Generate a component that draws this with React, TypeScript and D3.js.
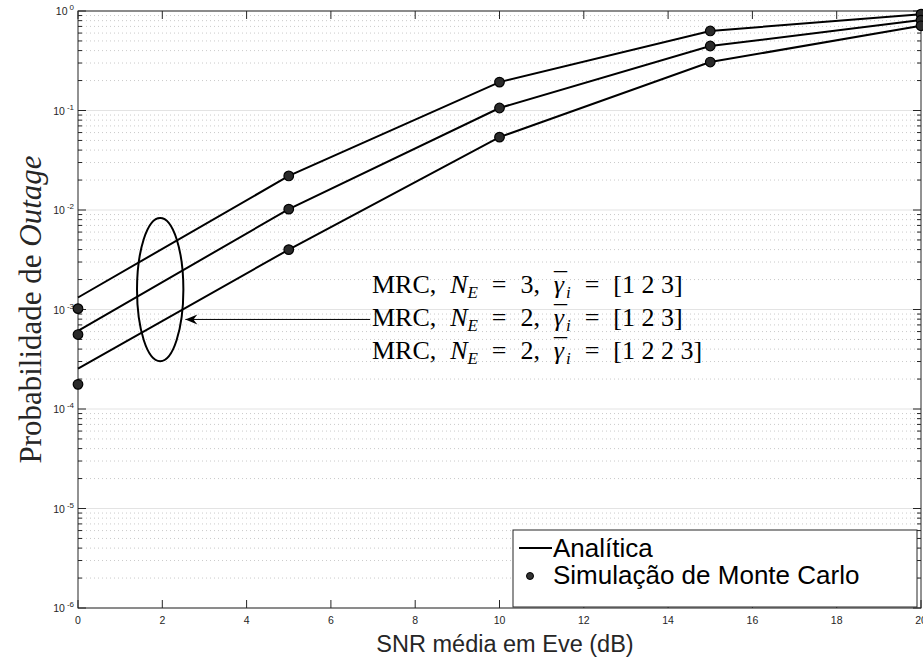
import React, { useEffect } from 'react';
import * as d3 from 'd3';

// SNR (dB)
const snr = [0, 5, 10, 15, 20];
// analytic curves
const anaNE3 = [1.32e-3, 0.022, 0.193, 0.63, 0.93];
const anaNE2 = [6.1e-4, 0.0102, 0.106, 0.445, 0.81];
const anaNE2b = [2.55e-4, 0.004, 0.054, 0.307, 0.71];
// monte carlo
const simNE3 = [1.02e-3, 0.022, 0.193, 0.63, 0.93];
const simNE2 = [5.6e-4, 0.0102, 0.106, 0.445, 0.81];
const simNE2b = [1.77e-4, 0.004, 0.054, 0.307, 0.71];

const xTicks = [0, 2, 4, 6, 8, 10, 12, 14, 16, 18, 20];
const yExps = [0, -1, -2, -3, -4, -5, -6];
const annotLabels = ['3', '2', '2'];
const annotGammas = ['[1 2 3]', '[1 2 3]', '[1 2 2 3]'];

const W = 923, H = 660;
const m = { left: 78, right: 921, top: 11, bottom: 608 };
const SANS = 'Liberation Sans, Arial, sans-serif';
const SERIF = 'Liberation Serif, Times New Roman, serif';

export default function App() {
  useEffect(() => {
    document.body.style.margin = '0';
  }, []);

  const x = d3.scaleLinear().domain([0, 20]).range([m.left, m.right]);
  const y = d3.scaleLog().domain([1e-6, 1]).range([m.bottom, m.top]);

  const line = d3.line<[number, number]>()
    .x(d => x(d[0]))
    .y(d => y(d[1]));

  const ana = [anaNE3, anaNE2, anaNE2b];
  const sim = [simNE3, simNE2, simNE2b];

  const minor: number[] = [];
  for (let e = -6; e < 0; e++) {
    for (let k = 2; k <= 9; k++) minor.push(k * Math.pow(10, e));
  }

  // ellipse in data coords
  const ex = x(1.95), eyTop = y(Math.pow(10, -2.08)), eyBot = y(Math.pow(10, -3.52));
  const erx = x(2.5) - x(1.95);
  const arrowY = y(Math.pow(10, -3.1));
  const sp = '\u2009\u2004';

  return (
    <svg width={W} height={H} style={{ display: 'block', background: '#fff' }}>
      {/* grid */}
      {minor.map((v, i) => (
        <line key={'mg' + i} x1={m.left} x2={m.right} y1={y(v)} y2={y(v)}
          stroke="#bdbdbd" strokeWidth={0.8} strokeDasharray="1,3" />
      ))}
      {yExps.map(e => (
        <line key={'g' + e} x1={m.left} x2={m.right} y1={y(Math.pow(10, e))} y2={y(Math.pow(10, e))}
          stroke="#e3e3e3" strokeWidth={1} />
      ))}

      {/* ticks */}
      {xTicks.map(t => (
        <g key={'xt' + t}>
          <line x1={x(t)} x2={x(t)} y1={m.bottom} y2={m.bottom - 8} stroke="#262626" />
          <line x1={x(t)} x2={x(t)} y1={m.top} y2={m.top + 8} stroke="#262626" />
          <text x={x(t)} y={m.bottom + 16} textAnchor="middle" fontSize={10.5}
            fontFamily={SANS} fill="#262626">{t}</text>
        </g>
      ))}
      {yExps.map(e => (
        <g key={'yt' + e}>
          <line x1={m.left} x2={m.left + 8} y1={y(Math.pow(10, e))} y2={y(Math.pow(10, e))} stroke="#262626" />
          <line x1={m.right} x2={m.right - 8} y1={y(Math.pow(10, e))} y2={y(Math.pow(10, e))} stroke="#262626" />
          <text x={m.left - 4} y={y(Math.pow(10, e)) + 4} textAnchor="end" fontSize={10.5}
            fontFamily={SANS} fill="#262626">
            10<tspan dy={-5} dx={2} fontSize={8}>{e === 0 ? '0' : '-' + Math.abs(e)}</tspan>
          </text>
        </g>
      ))}
      {minor.map((v, i) => (
        <g key={'mt' + i}>
          <line x1={m.left} x2={m.left + 4} y1={y(v)} y2={y(v)} stroke="#262626" />
          <line x1={m.right} x2={m.right - 4} y1={y(v)} y2={y(v)} stroke="#262626" />
        </g>
      ))}

      {/* axes box */}
      <rect x={m.left} y={m.top} width={m.right - m.left} height={m.bottom - m.top}
        fill="none" stroke="#262626" strokeWidth={1} />

      {/* curves */}
      {ana.map((s, i) => (
        <path key={'a' + i} d={line(snr.map((v, j) => [v, s[j]] as [number, number])) || ''}
          fill="none" stroke="#000" strokeWidth={2} />
      ))}
      {sim.map((s, i) => (
        <g key={'s' + i}>
          {snr.map((v, j) => (
            <circle key={j} cx={x(v)} cy={y(s[j])} r={4.8} fill="#2a2a2a" stroke="#000" strokeWidth={1.2} />
          ))}
        </g>
      ))}

      {/* annotation */}
      <ellipse cx={ex} cy={(eyTop + eyBot) / 2} rx={erx} ry={(eyBot - eyTop) / 2}
        fill="none" stroke="#000" strokeWidth={2} />
      <line x1={ex + erx + 2} x2={370} y1={arrowY} y2={arrowY} stroke="#000" strokeWidth={1} />
      <path d={`M${ex + erx + 2},${arrowY} l12,-5 l-4,5 l4,5 z`} fill="#000" />
      {annotLabels.map((n, i) => (
        <text key={'an' + i} x={372} y={arrowY - 26 + i * 33} fontSize={26}
          fontFamily={SERIF} fill="#000">
          MRC,{sp}<tspan fontStyle="italic">N</tspan><tspan fontStyle="italic" fontSize={17} dy={5}>E</tspan>
          <tspan dy={-5}>{sp}={sp}{n},{sp}</tspan><tspan fontStyle="italic">γ</tspan>
          <tspan dx={-10} dy={-3}>¯</tspan>
          <tspan fontStyle="italic" fontSize={17} dx={-1} dy={8}>i</tspan>
          <tspan dy={-5}>{sp}={sp}{annotGammas[i]}</tspan>
        </text>
      ))}

      {/* legend */}
      <rect x={513} y={530} width={404} height={77} fill="#fff" stroke="#262626" strokeWidth={1} />
      <line x1={519} x2={552} y1={548} y2={548} stroke="#000" strokeWidth={2} />
      <text x={553} y={557} fontSize={26} fontFamily={SANS}>Analítica</text>
      <circle cx={530} cy={576} r={3.5} fill="#333" stroke="#000" strokeWidth={1} />
      <text x={553} y={584} fontSize={26} fontFamily={SANS}>Simulação de Monte Carlo</text>

      {/* labels */}
      <text x={505} y={652} textAnchor="middle" fontSize={23.5}
        fontFamily={SANS} fill="#262626">SNR média em Eve (dB)</text>
      <text transform={`translate(41,${(m.top + m.bottom) / 2}) rotate(-90)`} textAnchor="middle"
        fontSize={31} fontFamily={SERIF} fill="#262626">
        Probabilidade de <tspan fontStyle="italic">Outage</tspan>
      </text>
    </svg>
  );
}
